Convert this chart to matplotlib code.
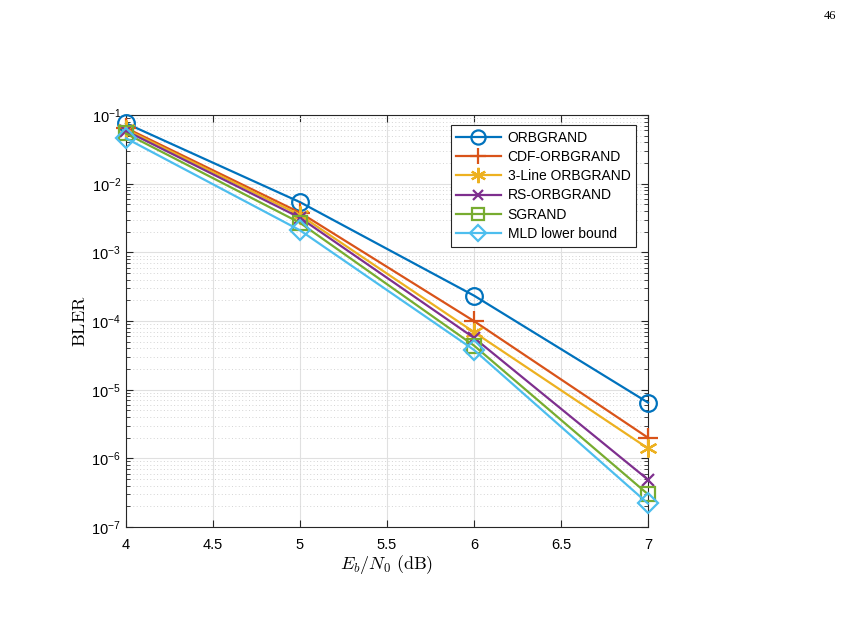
import matplotlib
matplotlib.use("Agg")
import matplotlib.pyplot as plt
from matplotlib.ticker import LogLocator, FuncFormatter, NullFormatter, MultipleLocator
import numpy as np

plt.rcParams['font.family'] = ['Liberation Sans', 'DejaVu Sans']
plt.rcParams['mathtext.fontset'] = 'cm'

ebn0 = [4, 5, 6, 7]
orbgrand = [7.6e-2, 5.4e-3, 2.35e-4, 6.5e-6]
cdf_orbgrand = [6.5e-2, 3.8e-3, 1.0e-4, 2.0e-6]
line3_orbgrand = [6.2e-2, 3.5e-3, 6.9e-5, 1.4e-6]
rs_orbgrand = [5.9e-2, 3.2e-3, 5.7e-5, 4.9e-7]
sgrand = [5.4e-2, 2.7e-3, 4.4e-5, 3.0e-7]
mld_bound = [4.6e-2, 2.1e-3, 3.8e-5, 2.2e-7]

names = ['ORBGRAND', 'CDF-ORBGRAND', '3-Line ORBGRAND', 'RS-ORBGRAND', 'SGRAND', 'MLD lower bound']
series = [orbgrand, cdf_orbgrand, line3_orbgrand, rs_orbgrand, sgrand, mld_bound]
colors = ['#0072BD', '#D95319', '#EDB120', '#7E2F8E', '#77AC30', '#4DBEEE']
markers = ['o', '+', (6, 2, 0), 'x', 's', 'D']
msizes = [12, 14, 13, 9, 10, 10]

fig = plt.figure(figsize=(8.49, 6.25), dpi=100)
ax = fig.add_axes([0.1484, 0.1568, 0.6148, 0.659])

for y, n, c, m, ms in zip(series, names, colors, markers, msizes):
    ax.semilogy(ebn0, y, color=c, marker=m, markersize=ms, markerfacecolor='none',
                markeredgewidth=1.6, linewidth=1.6, label=n, clip_on=False, zorder=3)

ax.set_xlim(4, 7)
ax.set_ylim(1e-7, 1e-1)
ax.xaxis.set_major_locator(MultipleLocator(0.5))
ax.xaxis.set_major_formatter(FuncFormatter(lambda v, p: ('%g' % v)))
ax.yaxis.set_major_locator(LogLocator(base=10, numticks=20))
ax.yaxis.set_minor_locator(LogLocator(base=10, subs=np.arange(2, 10), numticks=20))
ax.yaxis.set_minor_formatter(NullFormatter())
ax.yaxis.set_major_formatter(FuncFormatter(lambda v, p: r'$\mathregular{10^{%d}}$' % int(round(np.log10(v)))))

ax.grid(True, which='major', color='#e0e0e0', linewidth=0.8)
ax.grid(True, which='minor', axis='y', color='#d4d4d4', linestyle=(0, (1, 2.5)), linewidth=0.7)
ax.set_axisbelow(True)
ax.tick_params(which='both', direction='in', top=True, right=True, labelsize=10.5, color='#262626')
ax.tick_params(which='major', length=5)
ax.tick_params(which='minor', length=3)
ax.tick_params(axis='x', which='major', pad=8)
for s in ax.spines.values():
    s.set_color('#262626')
    s.set_linewidth(0.8)

ax.set_xlabel(r'$E_b/N_0\ \mathrm{(dB)}$', fontsize=13, labelpad=1)
ax.set_ylabel(r'$\mathrm{BLER}$', fontsize=13, labelpad=2)

leg = ax.legend(loc='upper right', bbox_to_anchor=(0.977, 0.976), borderaxespad=0,
                fontsize=10, fancybox=False, framealpha=1, edgecolor='#262626',
                handlelength=3.2, borderpad=0.4, labelspacing=0.38, handletextpad=0.5,
                markerscale=0.85)
leg.get_frame().set_linewidth(0.8)

fig.text(0.985, 0.975, '46', fontsize=9, ha='right', va='center', family='Liberation Serif')

fig.savefig('out.png', dpi=100, facecolor='white')
